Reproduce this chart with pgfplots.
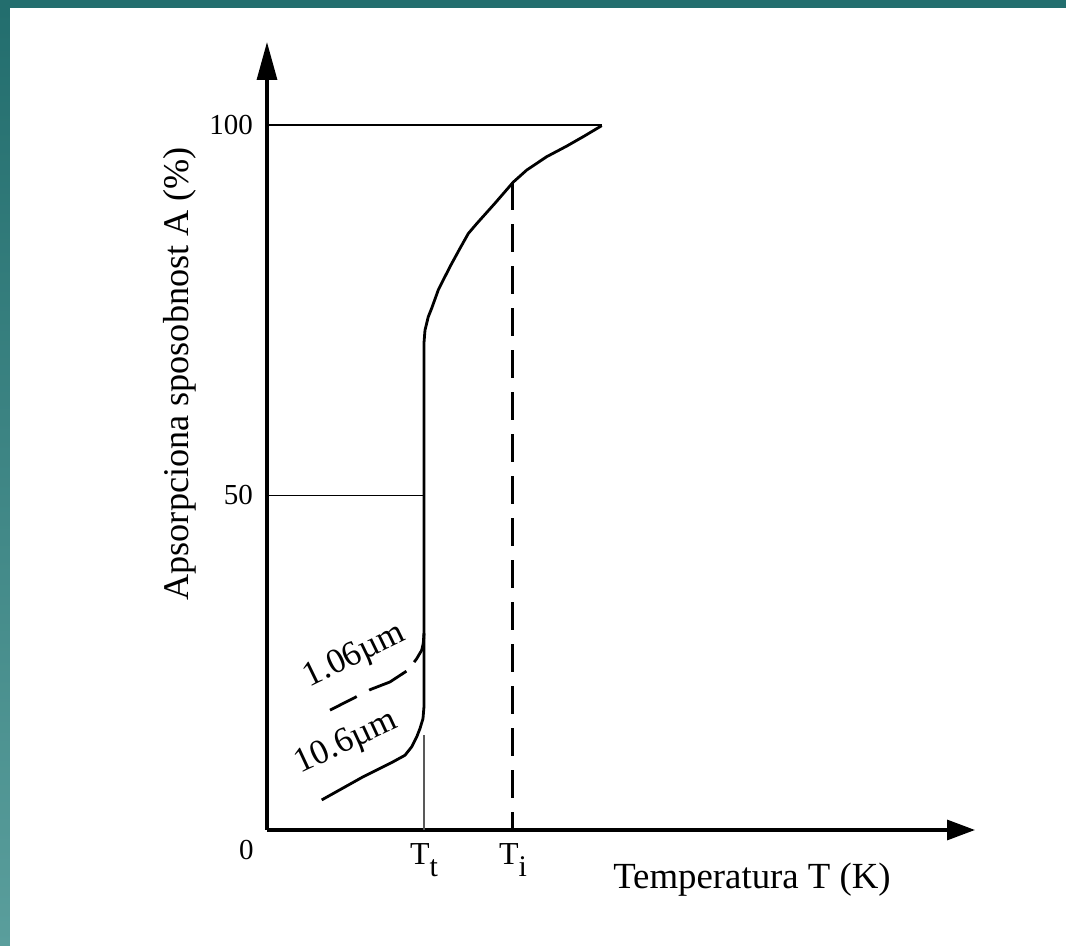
\documentclass[border=0pt]{standalone}
\usepackage{fontspec}
\setmainfont{Liberation Serif}
\usepackage{pgfplots}
\pgfplotsset{compat=1.18}
\usetikzlibrary{arrows.meta}
\definecolor{slideteal}{HTML}{236E6E}
\definecolor{slidetealb}{HTML}{5A9E9C}

% main curve, 10.6 um (x: arbitrary temperature units, y: absorptivity %)
\pgfplotstableread{
x y
54.7 4.26
96.3 7.56
126.3 9.69
138 10.6
144.7 11.8
149.7 13.2
153 14.4
156 15.8
157 17.5
157 69.1
158 70.9
161.3 72.8
164.7 74.0
171.3 76.6
183 79.9
193 82.5
201.3 84.6
209.7 86.0
228 88.9
246.3 91.9
259.7 93.6
279.7 95.5
299.7 97.0
317 98.4
334.7 99.9
}\mainc

% 1.06 um branch (dashed)
\pgfplotstableread{
x y
63 17.0
88 18.8
103 19.9
123 21.0
141.3 22.7
149.7 24.3
154.7 25.5
156.3 26.5
157 27.9
}\shortc

\begin{document}
\begin{tikzpicture}
\useasboundingbox (-133.5pt,-58pt) rectangle (399.5pt,415pt);
\fill[white] (-133.5pt,-58pt) rectangle (399.5pt,415pt);
\fill[slideteal] (-133.5pt,411pt) rectangle (399.5pt,415pt);
\shade[top color=slideteal, bottom color=slidetealb] (-133.5pt,-58pt) rectangle (-128.5pt,411pt);
\begin{axis}[
  at={(0,0)}, anchor=south west,
  scale only axis, width=354pt, height=394pt,
  xmin=0, xmax=708, ymin=0, ymax=111.77,
  axis lines=left,
  x axis line style={line width=1.6pt, -{Triangle[length=14pt,width=10pt]}},
  y axis line style={line width=1.6pt, -{Triangle[length=19pt,width=10pt]}},
  major tick length=0pt,
  ytick={47.5,100}, yticklabels={50,100},
  xtick={157,246},
  xticklabels={T\raisebox{-6pt}{\fontsize{15}{15}\selectfont t}, T\raisebox{-6pt}{\fontsize{15}{15}\selectfont i}},
  /pgf/number format/assume math mode=true,
  yticklabel style={font=\fontsize{14.5}{16}\selectfont, xshift=-3.5pt},
  xticklabel style={font=\fontsize{16}{17}\selectfont, yshift=-3pt},
  xlabel={Temperatura T (K)},
  ylabel={Apsorpciona sposobnost A (\%)},
  x label style={at={(rel axis cs:0.685,0)}, anchor=center, yshift=-25pt, font=\fontsize{18.4}{20}\selectfont},
  y label style={at={(axis description cs:-0.1229,0.579)}, anchor=center, font=\fontsize{18.1}{20}\selectfont},
  clip=false,
]
% thin reference lines
\addplot[black, line width=0.6pt] coordinates {(0,100) (334.7,100)};
\addplot[black, line width=0.6pt] coordinates {(0,47.5) (157,47.5)};
\addplot[black!65, line width=0.7pt] coordinates {(157,0) (157,13.5)};
% Ti dashed line
\addplot[black, line width=1.5pt, dash pattern=on 14pt off 7pt] coordinates {(246,91.9) (246,0)};
% curves
\addplot[black, line width=1.4pt, line join=round] table {\mainc};
\addplot[black, line width=1.4pt, dash pattern=on 15pt off 7pt on 21pt off 6pt on 12pt off 0pt] table {\shortc};
% annotations
\node[rotate=26, font=\fontsize{17.5}{18}\selectfont] at (axis cs:88,24.6) {1.06µm};
\node[rotate=25, font=\fontsize{17.5}{18}\selectfont] at (axis cs:79.7,12.3) {10.6µm};
\node[font=\fontsize{14.5}{16}\selectfont] at (axis cs:0,0) [xshift=-10.25pt, yshift=-10pt] {0};
\end{axis}
\end{tikzpicture}
\end{document}
